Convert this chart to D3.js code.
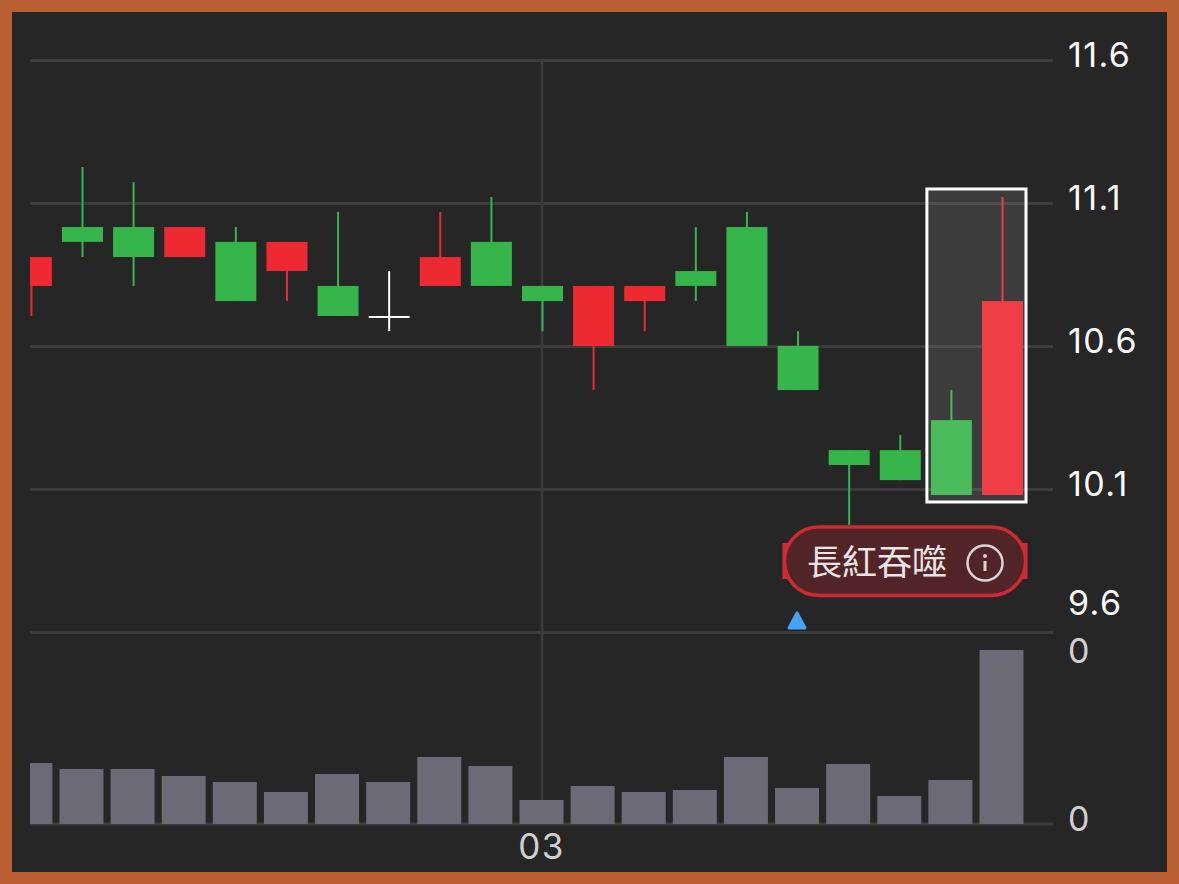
<!DOCTYPE html>
<html>
<head>
<meta charset="utf-8">
<script src="https://cdn.jsdelivr.net/npm/d3@7"></script>
<style>
  html, body { margin: 0; padding: 0; background: #b95f33; }
  svg { display: block; }
  text { font-family: Inter, Roboto, "Noto Sans CJK TC", sans-serif; }
</style>
</head>
<body>
<svg></svg>
<script>
// candle values, oldest first
const opens  = [10.81, 11.016, 11.016, 10.911, 10.964, 10.862, 10.81, 10.705, 10.81, 10.964, 10.81, 10.6, 10.757, 10.862, 11.016, 10.6, 10.236, 10.236, 10.341, 10.079]
const closes = [10.911, 10.964, 10.911, 11.016, 10.757, 10.964, 10.705, 10.705, 10.911, 10.81, 10.757, 10.81, 10.81, 10.81, 10.6, 10.446, 10.184, 10.131, 10.079, 10.757]
const highs  = [10.911, 11.226, 11.173, 11.016, 11.016, 10.964, 11.069, 10.862, 11.069, 11.121, 10.81, 10.81, 10.81, 11.016, 11.069, 10.652, 10.236, 10.289, 10.446, 11.121]
const lows   = [10.705, 10.911, 10.81, 10.911, 10.757, 10.757, 10.705, 10.652, 10.81, 10.81, 10.652, 10.446, 10.652, 10.757, 10.6, 10.446, 9.974, 10.131, 10.079, 10.079]
const volumes = [61, 55, 55, 48, 42, 32, 50, 42, 67, 58, 24, 38, 32, 34, 67, 36, 60, 28, 44, 174]

const priceTicks = [11.6, 11.1, 10.6, 10.1, 9.6]
const volumeTicks = [174, 0]
const volumeLabels = ["0", "0"]
const dateIndex = 10
const dateLabel = "03"
const patternName = "長紅吞噬"
const patternFrom = 18

const width = 1179
const height = 884
const left = 30
const right = 1053

const svg = d3.select("svg")
  .attr("width", width)
  .attr("height", height)
  .attr("viewBox", `0 0 ${width} ${height}`)

svg.append("rect")
  .attr("x", 12).attr("y", 12)
  .attr("width", 1155).attr("height", 860)
  .attr("fill", "#262626")

svg.append("defs").append("clipPath").attr("id", "plot")
  .append("rect")
  .attr("x", left).attr("y", 12)
  .attr("width", right - left).attr("height", 850)

const x = d3.scaleLinear().domain([1, 19]).range([82.5, 1002.5])
const y = d3.scaleLinear().domain([11.6, 9.6]).range([60, 632])
const yVol = d3.scaleLinear().domain([0, 174]).range([824, 650])

const gridColor = "#3c3c3c"

// price axis
const priceAxis = d3.axisRight(y)
  .tickValues(priceTicks)
  .tickFormat(d3.format(".1f"))
  .tickSize(right - left)
  .tickPadding(15)

const priceG = svg.append("g")
  .attr("transform", `translate(${left},0)`)
  .call(priceAxis)
priceG.select(".domain").remove()
priceG.selectAll("line").attr("stroke", gridColor).attr("stroke-width", 3)
priceG.selectAll("text")
  .attr("fill", "#fafafa")
  .style("font-size", "34px")
  .style("letter-spacing", "1.4px")
  .attr("dy", d => d === 9.6 ? "-0.51em" : "0.2em")

// volume axis, the app shows 0 on both ends
const volumeAxis = d3.axisRight(yVol)
  .tickValues(volumeTicks)
  .tickFormat((d, i) => volumeLabels[i])
  .tickSize(0)
  .tickPadding(15)

const volG = svg.append("g")
  .attr("transform", `translate(${right},0)`)
  .call(volumeAxis)
volG.select(".domain").remove()
volG.selectAll("text")
  .attr("fill", "#d0d0d0")
  .style("font-size", "34px")
  .attr("dy", d => d === 0 ? "0.2em" : "0.38em")

svg.append("line")
  .attr("x1", left).attr("x2", right)
  .attr("y1", yVol(0)).attr("y2", yVol(0))
  .attr("stroke", gridColor).attr("stroke-width", 3)

// date line
svg.append("line")
  .attr("x1", x(dateIndex) - 0.5).attr("x2", x(dateIndex) - 0.5)
  .attr("y1", y(11.6)).attr("y2", yVol(0))
  .attr("stroke", gridColor).attr("stroke-width", 2.5)

svg.append("text")
  .attr("x", x(dateIndex) - 1).attr("y", 859)
  .attr("text-anchor", "middle")
  .attr("fill", "#d0d0d0")
  .style("font-size", "35px")
  .style("letter-spacing", "1.5px")
  .text(dateLabel)

const plot = svg.append("g").attr("clip-path", "url(#plot)")

// volume bars
plot.selectAll("rect.vol")
  .data(volumes)
  .enter()
  .append("rect")
  .attr("class", "vol")
  .attr("x", (d, i) => x(i) - 23)
  .attr("width", 44)
  .attr("y", d => yVol(d))
  .attr("height", d => yVol(0) - yVol(d))
  .attr("fill", "#6b6a76")

const candleColor = i => {
  if (opens[i] === closes[i]) return "#ffffff"
  return closes[i] > opens[i] ? "#ed2a32" : "#36b54a"
}

// candles
const candles = plot.selectAll("g.candle")
  .data(d3.range(opens.length))
  .enter()
  .append("g")
  .attr("class", "candle")

candles.append("line")
  .attr("x1", i => x(i)).attr("x2", i => x(i))
  .attr("y1", i => y(highs[i]))
  .attr("y2", i => y(lows[i]))
  .attr("stroke", candleColor)
  .attr("stroke-width", 2)

candles.append("rect")
  .attr("x", i => x(i) - 20.5)
  .attr("width", 41)
  .attr("y", i => y(Math.max(opens[i], closes[i])))
  .attr("height", i => Math.max(Math.abs(y(opens[i]) - y(closes[i])), 2))
  .attr("fill", candleColor)

// highlight box around the last two candles
const boxTop = y(d3.max(highs.slice(patternFrom))) - 8
const boxBottom = y(d3.min(lows.slice(patternFrom))) + 7
svg.append("rect")
  .attr("x", x(patternFrom) - 24.5)
  .attr("width", x(19) - x(patternFrom) + 48)
  .attr("y", boxTop)
  .attr("height", boxBottom - boxTop)
  .attr("fill", "#ffffff")
  .attr("fill-opacity", 0.1)
  .attr("stroke", "#ffffff")
  .attr("stroke-width", 3)

// pattern badge
const badge = svg.append("g").attr("transform", "translate(905,562)")

badge.append("rect")
  .attr("x", -122.5).attr("y", -19)
  .attr("width", 245).attr("height", 36)
  .attr("fill", "#cf2a32")

badge.append("rect")
  .attr("x", -120.5).attr("y", -35)
  .attr("width", 241).attr("height", 68.5)
  .attr("rx", 34)
  .attr("fill", "#512528")
  .attr("stroke", "#cf2a32")
  .attr("stroke-width", 3.5)

badge.append("text")
  .attr("x", -98).attr("y", 12.5)
  .attr("fill", "#eee4e4")
  .style("font-family", '"Noto Sans CJK TC"')
  .style("font-weight", 400)
  .style("font-size", "35px")
  .text(patternName)

const info = badge.append("g").attr("transform", "translate(80,1)")
info.append("circle")
  .attr("r", 17.5)
  .attr("fill", "none")
  .attr("stroke", "#dcd4d4")
  .attr("stroke-width", 2.5)
info.append("circle")
  .attr("cy", -7).attr("r", 2)
  .attr("fill", "#dcd4d4")
info.append("line")
  .attr("y1", -2).attr("y2", 8)
  .attr("stroke", "#dcd4d4")
  .attr("stroke-width", 3)

// blue marker above the volume pane
svg.append("path")
  .attr("d", d3.line()([[x(15) - 1, 613], [x(15) + 7, 628], [x(15) - 9, 628]]) + "Z")
  .attr("fill", "#42a5f5")
  .attr("stroke", "#42a5f5")
  .attr("stroke-width", 3)
  .attr("stroke-linejoin", "round")
</script>
</body>
</html>
